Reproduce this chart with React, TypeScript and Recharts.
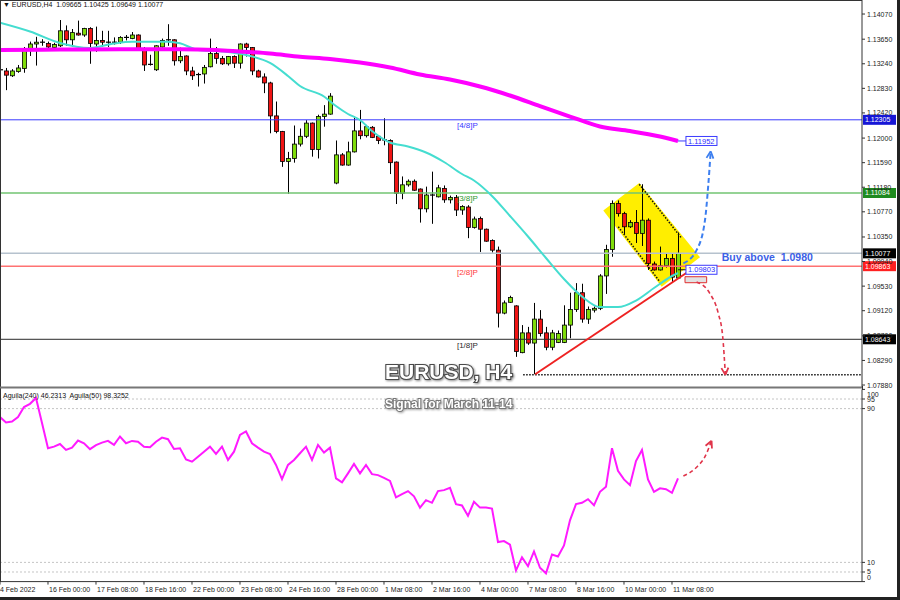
import React from 'react';
import {
  ComposedChart,
  LineChart,
  Bar,
  Line,
  XAxis,
  YAxis,
  ReferenceLine,
  ReferenceArea,
  ReferenceDot,
} from 'recharts';

const FONT = '"Liberation Sans", Arial, sans-serif';

// EURUSD H4 bars, index 0 = 14 Feb 16:00 ... 113 = 11 Mar 12:00
const opens = [
  1.1313, 1.1312, 1.1304, 1.1311, 1.1316, 1.1347, 1.1357, 1.1358, 1.1358, 1.1351,
  1.1354, 1.1379, 1.1364, 1.1375, 1.1372, 1.1383, 1.1357, 1.1363, 1.1359, 1.1360,
  1.1360, 1.1367, 1.1366, 1.1372, 1.1349, 1.1323, 1.1314, 1.1352, 1.1363, 1.1364,
  1.1329, 1.1337, 1.1312, 1.1306, 1.1307, 1.1319, 1.1341, 1.1333, 1.1324, 1.1336,
  1.1325, 1.1357, 1.1351, 1.1312, 1.1302, 1.1292, 1.1237, 1.1211, 1.1161, 1.1166,
  1.1190, 1.1203, 1.1225, 1.1181, 1.1236, 1.1240, 1.1125, 1.1172, 1.1155, 1.1177,
  1.1212, 1.1204, 1.1218, 1.1203, 1.1197, 1.1196, 1.1160, 1.1108, 1.1122, 1.1128,
  1.1115, 1.1082, 1.1105, 1.1102, 1.1116, 1.1097, 1.1101, 1.1080, 1.1085, 1.1051,
  1.1066, 1.1048, 1.1029, 1.1013, 1.0908, 1.0926, 1.0920, 1.0842, 1.0875, 1.0858,
  1.0898, 1.0875, 1.0851, 1.0859, 1.0859, 1.0888, 1.0914, 1.0942, 1.0898, 1.0913,
  1.0916, 1.0970, 1.1014, 1.1091, 1.1074, 1.1052, 1.1059, 1.1041, 1.1063, 1.0990,
  1.0980, 1.0987, 1.0999, 1.09665,
];
const highs = [
  1.1317, 1.1317, 1.1315, 1.1322, 1.1352, 1.1361, 1.1369, 1.1365, 1.1361, 1.1359,
  1.1397, 1.1388, 1.1382, 1.1396, 1.1384, 1.1385, 1.1386, 1.1379, 1.1379, 1.1368,
  1.1370, 1.1372, 1.1377, 1.1373, 1.1352, 1.1339, 1.1355, 1.1366, 1.1390, 1.1365,
  1.1351, 1.1338, 1.1319, 1.1309, 1.1322, 1.1366, 1.1352, 1.1337, 1.1337, 1.1338,
  1.1358, 1.1359, 1.1352, 1.1314, 1.1308, 1.1294, 1.1261, 1.1212, 1.1177, 1.1221,
  1.1216, 1.1230, 1.1226, 1.1239, 1.1255, 1.1275, 1.1196, 1.1175, 1.1194, 1.1236,
  1.1247, 1.1222, 1.1220, 1.1205, 1.1233, 1.1198, 1.1161, 1.1136, 1.1131, 1.1131,
  1.1116, 1.1119, 1.1144, 1.1122, 1.1121, 1.1104, 1.1105, 1.1088, 1.1088, 1.1069,
  1.1069, 1.1049, 1.1031, 1.1019, 1.0929, 1.0937, 1.0921, 1.0888, 1.0885, 1.0925,
  1.0913, 1.0885, 1.0880, 1.0879, 1.0921, 1.0942, 1.0958, 1.0957, 1.0919, 1.0919,
  1.0973, 1.1022, 1.1096, 1.1096, 1.1077, 1.1063, 1.1080, 1.1123, 1.1066, 1.0994,
  1.1019, 1.1007, 1.1007, 1.10425,
];
const lows = [
  1.1310, 1.1280, 1.1302, 1.1309, 1.1309, 1.1337, 1.1321, 1.1354, 1.1349, 1.1346,
  1.1352, 1.1354, 1.1352, 1.1371, 1.1369, 1.1324, 1.1344, 1.1352, 1.1352, 1.1356,
  1.1357, 1.1363, 1.1365, 1.1347, 1.1312, 1.1321, 1.1312, 1.1351, 1.1354, 1.1321,
  1.1325, 1.1305, 1.1297, 1.1286, 1.1291, 1.1318, 1.1324, 1.1322, 1.1321, 1.1317,
  1.1316, 1.1336, 1.1305, 1.1301, 1.1275, 1.1208, 1.1208, 1.1152, 1.1107, 1.1159,
  1.1186, 1.1200, 1.1169, 1.1166, 1.1219, 1.1239, 1.1123, 1.1154, 1.1154, 1.1176,
  1.1198, 1.1201, 1.1200, 1.1190, 1.1188, 1.1140, 1.1090, 1.1098, 1.1119, 1.1112,
  1.1059, 1.1076, 1.1057, 1.1101, 1.1092, 1.1091, 1.1070, 1.1072, 1.1033, 1.1049,
  1.1010, 1.1027, 1.1009, 1.0884, 1.0906, 1.0925, 1.0835, 1.0841, 1.0855, 1.0806,
  1.0869, 1.0846, 1.0846, 1.0858, 1.0858, 1.0866, 1.0910, 1.0892, 1.0890, 1.0909,
  1.0913, 1.0940, 1.1002, 1.1069, 1.1040, 1.1050, 1.1025, 1.1020, 1.0980, 1.0979,
  1.0979, 1.0984, 1.0959, 1.09649,
];
const closes = [
  1.1314, 1.1305, 1.1312, 1.1317, 1.1348, 1.1357, 1.1360, 1.1360, 1.1352, 1.1356,
  1.1379, 1.1364, 1.1376, 1.1372, 1.1383, 1.1358, 1.1363, 1.1360, 1.1360, 1.1358,
  1.1368, 1.1368, 1.1372, 1.1348, 1.1322, 1.1322, 1.1354, 1.1363, 1.1364, 1.1329,
  1.1336, 1.1312, 1.1304, 1.1305, 1.1318, 1.1341, 1.1333, 1.1324, 1.1336, 1.1325,
  1.1357, 1.1351, 1.1312, 1.1302, 1.1292, 1.1237, 1.1211, 1.1161, 1.1166, 1.1190,
  1.1203, 1.1225, 1.1181, 1.1236, 1.1240, 1.1270, 1.1172, 1.1155, 1.1177, 1.1212,
  1.1204, 1.1219, 1.1201, 1.1196, 1.1196, 1.1159, 1.1108, 1.1122, 1.1128, 1.1113,
  1.1082, 1.1105, 1.1104, 1.1117, 1.1097, 1.1101, 1.1080, 1.1086, 1.1051, 1.1065,
  1.1048, 1.1028, 1.1013, 1.0908, 1.0925, 1.0934, 1.0844, 1.0875, 1.0858, 1.0898,
  1.0874, 1.0851, 1.0875, 1.0874, 1.0888, 1.0914, 1.0942, 1.0898, 1.0914, 1.0916,
  1.0970, 1.1014, 1.1091, 1.1074, 1.1052, 1.1059, 1.1041, 1.1063, 1.0991, 1.0980,
  1.0987, 1.0999, 1.0968, 1.10077,
];

// fast moving average (cyan), read at selected bars
const fastMaBars = [
  0, 5, 10, 15, 19, 22, 28, 30, 33, 37, 41, 45, 48, 50, 54, 56, 58, 60, 62, 65,
  68, 71, 74, 77, 79, 82, 85, 88, 91, 94, 97, 100, 103, 106, 109, 112, 113,
];
const fastMa = [
  1.13925, 1.13778, 1.13586, 1.13503, 1.13578, 1.13608, 1.13608, 1.13582, 1.1347, 1.13445,
  1.13386, 1.13253, 1.13036, 1.12869, 1.12694, 1.12535, 1.12402, 1.12302, 1.12118, 1.11926,
  1.1186, 1.11759, 1.11601, 1.11401, 1.11292, 1.11034, 1.107, 1.10358, 1.09999, 1.09649,
  1.09357, 1.09181, 1.09181, 1.0929, 1.09498, 1.09699, 1.09749,
];

// slow moving average (magenta)
const slowMaBars = [0, 10, 20, 30, 36, 40, 45, 50, 55, 60, 65, 70, 75, 80, 85, 90, 95, 100, 105, 110, 113];
const slowMa = [
  1.1347, 1.13478, 1.13481, 1.13481, 1.1347, 1.13445, 1.13411, 1.13358, 1.1332, 1.13261,
  1.13178, 1.13061, 1.12977, 1.12861, 1.12711, 1.12535, 1.1236, 1.12193, 1.12118, 1.12026,
  1.11952,
];

// Aguila oscillator, one value per bar
const aguila = [
  85.6, 82.8, 83.3, 85.6, 90.8, 92.5, 95.5, 82.5, 69.4, 70.2,
  71.6, 68.5, 69.7, 73.4, 72.0, 68.9, 71.0, 72.3, 73.2, 71.1,
  75.5, 72.0, 73.2, 72.8, 70.2, 69.9, 72.8, 74.9, 74.1, 69.0,
  69.4, 63.6, 62.4, 65.0, 67.6, 70.2, 66.4, 70.2, 63.3, 67.6,
  76.3, 78.1, 72.0, 69.7, 67.6, 66.4, 60.7, 53.3, 60.7, 63.3,
  66.8, 70.2, 63.3, 71.1, 67.1, 69.7, 53.7, 51.6, 56.3, 61.2,
  56.3, 60.7, 55.9, 55.4, 54.0, 52.4, 43.8, 45.5, 47.1, 44.4,
  38.5, 42.4, 41.0, 47.1, 47.6, 48.8, 40.3, 39.6, 34.2, 41.5,
  38.5, 38.5, 38.0, 20.6, 21.1, 19.2, 5.8, 12.7, 8.0, 15.7,
  7.2, 4.3, 14.1, 13.1, 18.8, 31.9, 40.3, 41.0, 42.9, 39.7,
  46.7, 49.3, 69.4, 57.7, 53.2, 50.2, 62.7, 68.5, 53.2, 46.7,
  48.5, 48.1, 46.2, 53.7,
];

// Murrey levels and price line
const levelPrices = [1.12305, 1.11084, 1.10077, 1.09863, 1.08643];
const levelNames = ['[4/8]P', '[3/8]P', '', '[2/8]P', '[1/8]P'];
const levelLine = ['#3a3aff', '#72c472', '#b6c2ce', '#ff7272', '#2a2a2a'];
const levelText = ['#3a3aff', '#2f9a2f', '#000', '#ff3b3b', '#2a2a2a'];
const levelTag = ['#1616d6', '#1f8a1f', '#000', '#ff2020', '#000'];

const priceTicks = [
  1.0788, 1.0829, 1.087, 1.0912, 1.0953, 1.0994, 1.1035, 1.1077,
  1.1118, 1.1159, 1.12, 1.1242, 1.1283, 1.1324, 1.1365, 1.1407,
];
const dateTickBars = [0, 8, 16, 24, 32, 40, 48, 56, 64, 72, 80, 88, 96, 104, 112];
const dateLabels = [
  '14 Feb 2022', '16 Feb 00:00', '17 Feb 08:00', '18 Feb 16:00', '22 Feb 00:00',
  '23 Feb 08:00', '24 Feb 16:00', '28 Feb 00:00', '1 Mar 08:00', '2 Mar 16:00',
  '4 Mar 00:00', '7 Mar 08:00', '8 Mar 16:00', '10 Mar 00:00', '11 Mar 08:00',
];
const oscTicks = [0, 5, 10, 90, 95, 100];

// drawn setup: descending channel box (top, left, bottom, right corners)
const channelBars = [106.55, 100.55, 110.28, 116.67];
const channelPrices = [1.1125, 1.10792, 1.0952, 1.10011];
// projected paths
const bullBars = [113.9, 116.1, 117.5, 118.05, 118.45];
const bullPrices = [1.0991, 1.1013, 1.1063, 1.1122, 1.1178];
const bearBars = [116.1, 118.3, 119.7, 120.45, 120.9];
const bearPrices = [1.0960, 1.0941, 1.0908, 1.0869, 1.0805];
const oscArrowBars = [113.9, 116.1, 117.5, 118.6];
const oscArrowValues = [54.9, 59.5, 65.0, 73.3];

const X_MAX = 143.67;
const Y_MIN = 1.07847;
const Y_MAX = 1.14304;

const GREEN = '#7fdc0a';
const RED = '#f01414';

const candleRows = opens.map((open, i) => ({ i, open, high: highs[i], low: lows[i], close: closes[i] }));
const fastRows = fastMaBars.map((i, k) => ({ i, p: fastMa[k] }));
const slowRows = slowMaBars.map((i, k) => ({ i, p: slowMa[k] }));
const oscRows = aguila.map((v, i) => ({ i, v }));
const bullRows = bullBars.map((i, k) => ({ i, p: bullPrices[k] }));
const bearRows = bearBars.map((i, k) => ({ i, p: bearPrices[k] }));
const oscArrowRows = oscArrowBars.map((i, k) => ({ i, v: oscArrowValues[k] }));

const lastOf = (arr: number[]) => arr[arr.length - 1];

function Candle(props: any) {
  const { x, y, width, height, payload } = props;
  if (!payload || !height) return <g />;
  const { open, high, low, close } = payload;
  const k = height / (high - low);
  const yAt = (v: number) => y + (high - v) * k;
  const cx = Math.round(x + width / 2) + 0.5;
  const top = yAt(Math.max(open, close));
  const bottom = yAt(Math.min(open, close));
  const wick = <line x1={cx} x2={cx} y1={y} y2={y + height} stroke="#000" strokeWidth={1} />;
  if (bottom - top < 1.2) {
    return (
      <g>
        {wick}
        <line x1={cx - 2.5} x2={cx + 2.5} y1={top} y2={top} stroke="#000" strokeWidth={1.2} />
      </g>
    );
  }
  return (
    <g>
      {wick}
      <rect x={cx - 2} y={top} width={4} height={bottom - top} fill={close >= open ? GREEN : RED} stroke="#000" strokeWidth={0.8} />
    </g>
  );
}

function Channel(props: any) {
  const { x, y, width, height } = props;
  const i0 = Math.min(...channelBars);
  const i1 = Math.max(...channelBars);
  const p0 = Math.min(...channelPrices);
  const p1 = Math.max(...channelPrices);
  const pts = channelBars
    .map((b, k) => `${x + ((b - i0) / (i1 - i0)) * width},${y + ((p1 - channelPrices[k]) / (p1 - p0)) * height}`)
    .join(' ');
  return <polygon points={pts} fill="#ffee00" />;
}

function LevelLabel(props: any) {
  const { viewBox, price, name, color, tag } = props;
  if (!viewBox) return null;
  const { x, y, width } = viewBox;
  const right = x + width;
  const nameX = x + (77.9 / X_MAX) * width;
  return (
    <g>
      {name ? (
        <text x={nameX} y={y + 8.5} textAnchor="middle" fontSize={8} fontFamily={FONT} fill={color}>
          {name}
        </text>
      ) : null}
      <rect x={right + 1} y={y - 5} width={33} height={10} fill={tag} />
      <text x={right + 3} y={y + 2.5} fontSize={7} fontFamily={FONT} fill="#fff">
        {price.toFixed(5)}
      </text>
    </g>
  );
}

function PriceBox(props: any) {
  const { cx, cy, text } = props;
  if (cx == null) return <g />;
  return (
    <g>
      <rect x={cx} y={cy - 4.5} width={31} height={9} fill="#fff" stroke="#3b3bff" strokeWidth={1} />
      <text x={cx + 2} y={cy + 2.7} fontSize={7.5} fontFamily={FONT} fill="#2d2dff">
        {text}
      </text>
    </g>
  );
}

function TextMark(props: any) {
  const { cx, cy, text } = props;
  if (cx == null) return <g />;
  return (
    <text x={cx} y={cy + 4} fontSize={10.5} fontWeight="bold" fontFamily={FONT} fill="#3b5fe6" style={{ whiteSpace: 'pre' }}>
      {text}
    </text>
  );
}

// open chevron at the end of a projected path
function Head(props: any) {
  const { cx, cy, color, angle } = props;
  if (cx == null) return <g />;
  return (
    <g transform={`translate(${cx},${cy}) rotate(${angle})`}>
      <path d="M0,0 L-7,-3.5 M0,0 L-7,3.5" stroke={color} strokeWidth={1.8} fill="none" />
    </g>
  );
}

function PriceTick(props: any) {
  const { x, y, payload } = props;
  return (
    <g>
      <line x1={x} x2={x + 3} y1={y} y2={y} stroke="#333" />
      <text x={x + 5} y={y + 2.5} fontSize={7} fontFamily={FONT} fill="#222">
        {Number(payload.value).toFixed(5)}
      </text>
    </g>
  );
}

function OscTick(props: any) {
  const { x, y, payload } = props;
  const ty = Math.max(6, Math.min(189.5, y));
  return (
    <g>
      <line x1={x} x2={x + 3} y1={y} y2={y} stroke="#333" />
      <text x={x + 5} y={ty + 2.5} fontSize={7} fontFamily={FONT} fill="#222">
        {payload.value}
      </text>
    </g>
  );
}

function DateTick(props: any) {
  const { x, y, payload } = props;
  const k = dateTickBars.indexOf(payload.value);
  const tx = k === 0 ? x - 4 : x + 1;
  return (
    <g>
      <line x1={x} x2={x} y1={y} y2={y + 3} stroke="#333" />
      <text x={tx} y={y + 10} fontSize={7} fontFamily={FONT} fill="#222">
        {dateLabels[k]}
      </text>
    </g>
  );
}

export default function App() {
  return (
    <div style={{ position: 'absolute', left: 0, top: 0, width: 900, height: 600, background: '#fff', overflow: 'hidden' }}>
      <div style={{ position: 'absolute', left: 0, top: 0 }}>
        <ComposedChart width={900} height={388} data={candleRows} margin={{ top: 0, right: 0, bottom: 1, left: 0 }}>
          <XAxis type="number" dataKey="i" domain={[0, X_MAX]} allowDataOverflow hide />
          <YAxis
            orientation="right"
            type="number"
            domain={[Y_MIN, Y_MAX]}
            allowDataOverflow
            ticks={priceTicks}
            interval={0}
            width={38}
            tickSize={0}
            tickMargin={0}
            tick={<PriceTick />}
            axisLine={{ stroke: '#333' }}
            tickLine={false}
          />
          <ReferenceArea
            x1={Math.min(...channelBars)}
            x2={Math.max(...channelBars)}
            y1={Math.min(...channelPrices)}
            y2={Math.max(...channelPrices)}
            shape={<Channel />}
          />
          {levelPrices.map((p, k) => (
            <ReferenceLine
              key={p}
              y={p}
              stroke={levelLine[k]}
              strokeWidth={k === 0 || k === 4 ? 1 : 1.5}
              label={<LevelLabel price={p} name={levelNames[k]} color={levelText[k]} tag={levelTag[k]} />}
            />
          ))}
          <ReferenceLine segment={[{ x: 87.2, y: 1.0805 }, { x: X_MAX, y: 1.0805 }]} stroke="#111" strokeWidth={1.5} strokeDasharray="1.5 1.5" />
          <ReferenceLine segment={[{ x: 106.55, y: 1.1123 }, { x: 113.6, y: 1.1033 }]} stroke="#111" strokeWidth={1.5} strokeDasharray="1.5 1.5" />
          <ReferenceLine segment={[{ x: 103.05, y: 1.1052 }, { x: 110.0, y: 1.0960 }]} stroke="#111" strokeWidth={1.5} strokeDasharray="1.5 1.5" />
          <Bar dataKey={(d: any) => [d.low, d.high]} barSize={4} shape={<Candle />} isAnimationActive={false} />
          <Line data={fastRows} dataKey="p" type="monotone" stroke="#45ddd0" strokeWidth={2} dot={false} activeDot={false} isAnimationActive={false} />
          <Line data={slowRows} dataKey="p" type="monotone" stroke="#ff00ff" strokeWidth={4} dot={false} activeDot={false} isAnimationActive={false} />
          <ReferenceLine segment={[{ x: 89.2, y: 1.0806 }, { x: 114.7, y: 1.0977 }]} stroke="#ee2222" strokeWidth={2} />
          <ReferenceLine segment={[{ x: 113, y: 1.11952 }, { x: 114.33, y: 1.11952 }]} stroke="#3b3bff" strokeWidth={1} />
          <ReferenceLine segment={[{ x: 113, y: 1.09803 }, { x: 114.33, y: 1.09803 }]} stroke="#111" strokeWidth={1} />
          <ReferenceArea x1={114.17} x2={117.78} y1={1.09587} y2={1.09687} fill="#e2e2e2" fillOpacity={1} stroke="#e03030" strokeWidth={1} />
          <ReferenceDot x={114.33} y={1.11952} r={0} shape={<PriceBox text="1.11952" />} />
          <ReferenceDot x={114.33} y={1.09803} r={0} shape={<PriceBox text="1.09803" />} />
          <ReferenceDot x={120.3} y={1.1002} r={0} shape={<TextMark text={'Buy above  1.0980'} />} />
          <Line
            data={bullRows}
            dataKey="p"
            type="monotone"
            stroke="#3d7ff0"
            strokeWidth={2}
            strokeDasharray="5 3"
            dot={false}
            activeDot={false}
            isAnimationActive={false}
          />
          <Line
            data={bearRows}
            dataKey="p"
            type="monotone"
            stroke="#e0354a"
            strokeWidth={1.6}
            strokeDasharray="4 3"
            dot={false}
            activeDot={false}
            isAnimationActive={false}
          />
          <ReferenceDot x={lastOf(bullBars)} y={lastOf(bullPrices)} r={0} shape={<Head color="#3d7ff0" angle={-84} />} />
          <ReferenceDot x={lastOf(bearBars)} y={lastOf(bearPrices)} r={0} shape={<Head color="#e0354a" angle={86} />} />
        </ComposedChart>
      </div>

      <div style={{ position: 'absolute', left: 0, top: 388 }}>
        <LineChart width={900} height={212} data={oscRows} margin={{ top: 1.4, right: 0, bottom: 0, left: 0 }}>
          <XAxis
            type="number"
            dataKey="i"
            domain={[0, X_MAX]}
            allowDataOverflow
            ticks={dateTickBars}
            interval={0}
            height={18.4}
            tickSize={0}
            tickMargin={0}
            tick={<DateTick />}
            axisLine={{ stroke: '#333' }}
            tickLine={false}
          />
          <YAxis
            orientation="right"
            type="number"
            domain={[0, 100]}
            allowDataOverflow
            ticks={oscTicks}
            interval={0}
            width={38}
            tickSize={0}
            tickMargin={0}
            tick={<OscTick />}
            axisLine={{ stroke: '#333' }}
            tickLine={false}
          />
          {[5, 10, 90, 95].map((lv) => (
            <ReferenceLine key={lv} y={lv} stroke="#c4c4c4" strokeDasharray="2 2" />
          ))}
          <Line dataKey="v" type="linear" stroke="#ff1aff" strokeWidth={2} dot={false} activeDot={false} isAnimationActive={false} />
          <Line
            data={oscArrowRows}
            dataKey="v"
            type="monotone"
            stroke="#e0354a"
            strokeWidth={1.6}
            strokeDasharray="4 3"
            dot={false}
            activeDot={false}
            isAnimationActive={false}
          />
          <ReferenceDot x={lastOf(oscArrowBars)} y={lastOf(oscArrowValues)} r={0} shape={<Head color="#e0354a" angle={-66} />} />
        </LineChart>
      </div>

      <svg width={900} height={600} style={{ position: 'absolute', left: 0, top: 0, pointerEvents: 'none' }}>
        <line x1={0} x2={862} y1={0.5} y2={0.5} stroke="#333" />
        <line x1={0.5} x2={0.5} y1={0} y2={582} stroke="#333" />
        <line x1={0} x2={862} y1={387.5} y2={387.5} stroke="#777" strokeWidth={2} />
        <line x1={862.5} x2={862.5} y1={386} y2={390} stroke="#333" />
        <line x1={898.5} x2={898.5} y1={0} y2={600} stroke="#222" strokeWidth={3} />
        <line x1={0} x2={900} y1={598.5} y2={598.5} stroke="#222" strokeWidth={3} />
        <text x={3} y={7.4} fontSize={7} fontFamily={FONT} fill="#111" style={{ whiteSpace: 'pre' }}>
          {'▼ EURUSD,H4  1.09665 1.10425 1.09649 1.10077'}
        </text>
        <text x={3} y={398.3} fontSize={7} fontFamily={FONT} fill="#111" style={{ whiteSpace: 'pre' }}>
          {'Aguila(240) 46.2313  Aguila(50) 98.3252'}
        </text>
        <text
          x={385}
          y={378.5}
          fontSize={21}
          fontWeight="bold"
          fontFamily={FONT}
          fill="#fff"
          stroke="#4a4a4a"
          strokeWidth={2.2}
          paintOrder="stroke"
          style={{ filter: 'drop-shadow(1px 1px 1px rgba(0,0,0,0.45))' }}
        >
          EURUSD, H4
        </text>
        <text
          x={385}
          y={407.8}
          fontSize={12}
          fontWeight="bold"
          fontFamily={FONT}
          fill="#fff"
          stroke="#777"
          strokeWidth={2}
          paintOrder="stroke"
          style={{ filter: 'drop-shadow(1px 1px 1px rgba(0,0,0,0.35))' }}
        >
          Signal for March 11-14
        </text>
      </svg>
    </div>
  );
}
